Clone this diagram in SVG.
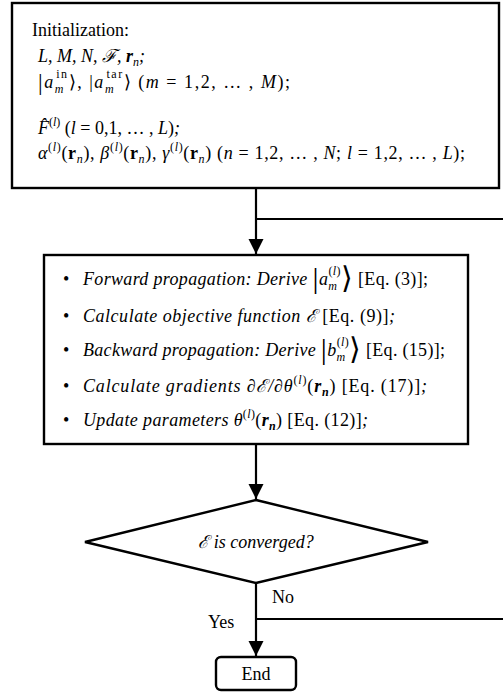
<svg xmlns="http://www.w3.org/2000/svg" width="503" height="692" viewBox="0 0 503 692">
<style>
text{font-family:"Liberation Serif","Times New Roman",serif;font-size:18px;fill:#000}
.i{font-style:italic}
.b{font-weight:bold}
.s{font-size:12px}
.big{font-size:30px;font-weight:normal}
.mid{font-size:23px;font-weight:normal}
.box{fill:#fff;stroke:#000;stroke-width:2.4}
.c{fill:none;stroke:#000;stroke-width:2.2}
</style>
<defs>
<marker id="ah" markerUnits="userSpaceOnUse" markerWidth="16" markerHeight="16" refX="15" refY="7.5" orient="auto">
<path d="M0,0 L15,7.5 L0,15 Z" fill="#000"/>
</marker>
</defs>
<g id="connectors">
<line class="c" x1="256" y1="188" x2="256" y2="254" marker-end="url(#ah)"/>
<polyline class="c" points="256,619 512,619 512,219 256,219"/>
<line class="c" x1="256" y1="444" x2="256" y2="499" marker-end="url(#ah)"/>
<line class="c" x1="256" y1="583" x2="256" y2="656" marker-end="url(#ah)"/>
</g>
<g id="init">
<rect class="box" x="12" y="3" width="487" height="185"/>
<text x="32" y="36">Initialization:</text>
<text x="38" y="62" class="i">L, M, N, ℱ, <tspan class="b">r</tspan><tspan class="s" dy="4">n</tspan><tspan dy="-4">;</tspan></text>
<text x="38" y="88" textLength="252" lengthAdjust="spacing"><tspan class="mid" dy="2">|</tspan><tspan class="i" dy="-2">a</tspan><tspan class="s i" dy="5">m</tspan><tspan class="s" dx="-8.7" dy="-15">in</tspan><tspan dy="10">⟩, |</tspan><tspan class="i">a</tspan><tspan class="s i" dy="5">m</tspan><tspan class="s" dx="-8.7" dy="-15">tar</tspan><tspan dy="10">⟩ (</tspan><tspan class="i">m</tspan> = 1,2, … , <tspan class="i">M</tspan>);</text>
<text x="38" y="134"><tspan class="i">F̂</tspan><tspan class="s" dy="-8">(<tspan class="i">l</tspan>)</tspan><tspan dy="8"> (</tspan><tspan class="i">l</tspan> = 0,1, … , <tspan class="i">L</tspan>)<tspan class="i">;</tspan></text>
<text x="38" y="159" textLength="427" lengthAdjust="spacing"><tspan class="i">α</tspan><tspan class="s" dy="-8">(<tspan class="i">l</tspan>)</tspan><tspan dy="8">(</tspan><tspan class="b">r</tspan><tspan class="s i" dy="4">n</tspan><tspan dy="-4">), </tspan><tspan class="i">β</tspan><tspan class="s" dy="-8">(<tspan class="i">l</tspan>)</tspan><tspan dy="8">(</tspan><tspan class="b">r</tspan><tspan class="s i" dy="4">n</tspan><tspan dy="-4">), </tspan><tspan class="i">γ</tspan><tspan class="s" dy="-8">(<tspan class="i">l</tspan>)</tspan><tspan dy="8">(</tspan><tspan class="b">r</tspan><tspan class="s i" dy="4">n</tspan><tspan dy="-4">) (</tspan><tspan class="i">n</tspan> = 1,2, … , <tspan class="i">N</tspan>; <tspan class="i">l</tspan> = 1,2, … , <tspan class="i">L</tspan>);</text>
</g>
<g id="loop">
<rect class="box" x="44" y="255" width="424" height="189"/>
<text x="63" y="285">•</text>
<text x="83" y="285" textLength="345" lengthAdjust="spacing"><tspan class="i">Forward propagation: Derive </tspan><tspan class="big" dy="3">|</tspan><tspan class="i" dy="-3">a</tspan><tspan class="s i" dy="5">m</tspan><tspan class="s" dx="-8.7" dy="-15">(<tspan class="i">l</tspan>)</tspan><tspan class="big" dy="13">⟩</tspan><tspan dy="-3"> [Eq. (3)];</tspan></text>
<text x="63" y="322">•</text>
<text x="83" y="322" textLength="312" lengthAdjust="spacing"><tspan class="i">Calculate objective function </tspan><tspan class="i">ℰ</tspan> [Eq. (9)]<tspan class="i">;</tspan></text>
<text x="63" y="356">•</text>
<text x="83" y="356" textLength="362" lengthAdjust="spacing"><tspan class="i">Backward propagation: Derive </tspan><tspan class="big" dy="3">|</tspan><tspan class="i" dy="-3">b</tspan><tspan class="s i" dy="5">m</tspan><tspan class="s" dx="-8.7" dy="-15">(<tspan class="i">l</tspan>)</tspan><tspan class="big" dy="13">⟩</tspan><tspan dy="-3"> [Eq. (15)];</tspan></text>
<text x="63" y="392">•</text>
<text x="83" y="392" textLength="344" lengthAdjust="spacing"><tspan class="i">Calculate gradients ∂ℰ/∂θ</tspan><tspan class="s" dy="-8">(<tspan class="i">l</tspan>)</tspan><tspan dy="8">(</tspan><tspan class="b i">r</tspan><tspan class="s i b" dy="4">n</tspan><tspan dy="-4">) [Eq. (17)]</tspan><tspan class="i">;</tspan></text>
<text x="63" y="426">•</text>
<text x="83" y="426" textLength="285" lengthAdjust="spacing"><tspan class="i">Update parameters θ</tspan><tspan class="s" dy="-8">(<tspan class="i">l</tspan>)</tspan><tspan dy="8">(</tspan><tspan class="b i">r</tspan><tspan class="s i b" dy="4">n</tspan><tspan dy="-4">) [Eq. (12)]</tspan><tspan class="i">;</tspan></text>
</g>
<g id="decision">
<polygon class="box" points="256,500 428,542 256,583 85,542"/>
<text x="256" y="548" text-anchor="middle" class="i">ℰ is converged?</text>
</g>
<g id="labels">
<text x="272" y="603">No</text>
<text x="208" y="628">Yes</text>
</g>
<g id="end">
<rect class="box" x="216" y="657" width="80" height="33" rx="5"/>
<text x="256" y="680" text-anchor="middle">End</text>
</g>
</svg>
